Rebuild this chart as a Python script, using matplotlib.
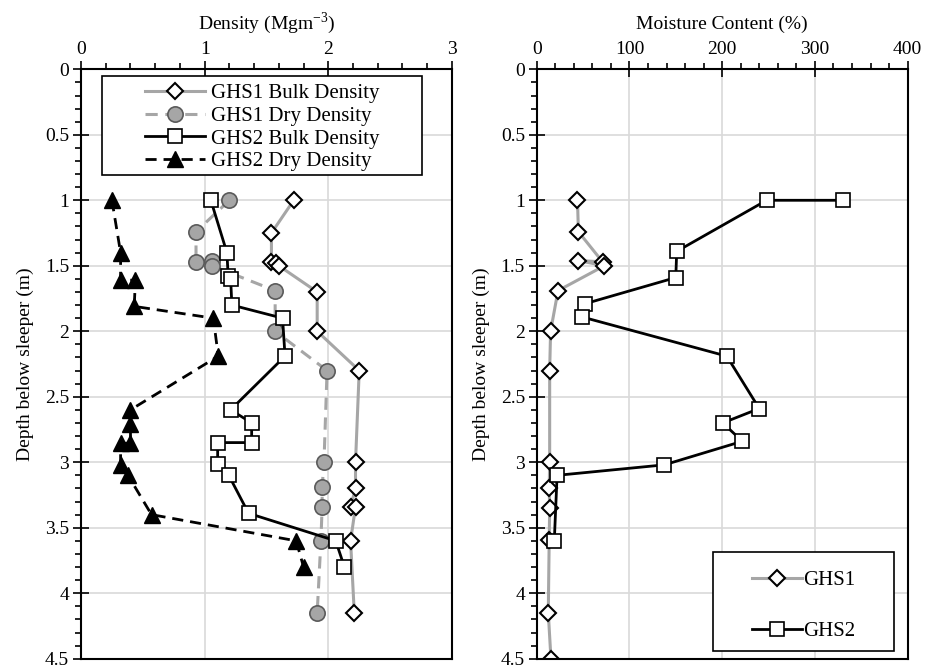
import matplotlib
matplotlib.use("Agg")
import matplotlib.pyplot as plt
from matplotlib.patches import Rectangle
from matplotlib.ticker import MultipleLocator, FuncFormatter

plt.rcParams['font.family'] = ['Liberation Serif', 'DejaVu Serif']
plt.rcParams['font.size'] = 14

# density profiles (Mg/m3) vs depth below sleeper (m)
ghs1_bulk = [1.72, 1.54, 1.54, 1.58, 1.60, 1.91, 1.91, 2.25, 2.22, 2.22, 2.18, 2.22, 2.18, 2.21]
ghs1_bulk_depth = [1.0, 1.25, 1.47, 1.48, 1.50, 1.70, 2.0, 2.3, 3.0, 3.2, 3.34, 3.34, 3.6, 4.15]

ghs1_dry = [1.2, 0.93, 0.93, 1.06, 1.06, 1.57, 1.57, 1.99, 1.965, 1.95, 1.95, 1.94, 1.91]
ghs1_dry_depth = [1.0, 1.24, 1.47, 1.46, 1.5, 1.69, 2.0, 2.3, 3.0, 3.19, 3.34, 3.6, 4.15]

ghs2_bulk = [1.05, 1.18, 1.19, 1.21, 1.22, 1.63, 1.65, 1.21, 1.38, 1.38, 1.105, 1.105, 1.195, 1.355, 2.06, 2.13]
ghs2_bulk_depth = [1.0, 1.4, 1.58, 1.6, 1.8, 1.9, 2.19, 2.6, 2.7, 2.85, 2.85, 3.01, 3.1, 3.39, 3.6, 3.8]

ghs2_dry = [0.25, 0.32, 0.32, 0.44, 0.43, 1.07, 1.11, 0.40, 0.40, 0.40, 0.32, 0.32, 0.38, 0.57, 1.74, 1.80]
ghs2_dry_depth = [1.0, 1.4, 1.61, 1.61, 1.81, 1.9, 2.19, 2.6, 2.71, 2.855, 2.855, 3.02, 3.1, 3.4, 3.6, 3.8]

# moisture content (%)
ghs1_mc = [44, 45, 71, 45, 73, 23, 15, 14, 14, 13.5, 14, 13.5, 12.5, 15.4]
ghs1_mc_depth = [1.0, 1.24, 1.47, 1.46, 1.5, 1.69, 2.0, 2.3, 3.0, 3.2, 3.35, 3.59, 4.15, 4.5]

ghs2_mc = [330, 248, 151, 150, 52, 48.5, 205, 240, 200.6, 221.8, 137.6, 22, 19]
ghs2_mc_depth = [1.0, 1.0, 1.39, 1.59, 1.79, 1.89, 2.19, 2.59, 2.7, 2.84, 3.02, 3.1, 3.6]

grey = '#a6a6a6'
fig = plt.figure(figsize=(9.25, 6.69), dpi=100)
ax1 = fig.add_axes([0.0876, 0.0154, 0.401, 0.881])
ax2 = fig.add_axes([0.5802, 0.0154, 0.401, 0.881])

fmt = FuncFormatter(lambda v, p: '{:g}'.format(round(v, 3)))


def style(ax, xmax, xmaj, xmin):
    ax.set_ylim(4.5, 0)
    ax.set_xlim(0, xmax)
    ax.xaxis.tick_top()
    ax.xaxis.set_label_position('top')
    ax.xaxis.set_major_locator(MultipleLocator(xmaj))
    ax.xaxis.set_minor_locator(MultipleLocator(xmin))
    ax.yaxis.set_major_locator(MultipleLocator(0.5))
    ax.yaxis.set_minor_locator(MultipleLocator(0.1))
    ax.xaxis.set_major_formatter(fmt)
    ax.yaxis.set_major_formatter(fmt)
    ax.tick_params(which='major', direction='inout', length=11, width=1.2, pad=3)
    ax.tick_params(which='minor', direction='out', length=4, width=1.2)
    ax.tick_params(axis='x', which='both', top=True, bottom=False)
    ax.grid(True, which='major', color='#d9d9d9', lw=1.2)
    ax.set_axisbelow(True)
    for s in ax.spines.values():
        s.set_linewidth(1.5)
    ax.set_ylabel('Depth below sleeper (m)', labelpad=8)


def legend_box(ax, x0, y0, x1, y1):
    ax.add_patch(Rectangle((x0, y0), x1 - x0, y1 - y0, transform=ax.transAxes,
                           facecolor='white', edgecolor='black', lw=1.2, zorder=4))


style(ax1, 3, 1, 0.2)
ax1.set_xlabel(r'Density (Mgm$^{\mathregular{-3}}$)', labelpad=8)
ax1.plot(ghs1_bulk, ghs1_bulk_depth, color=grey, lw=2.2, marker='D', ms=8,
         mfc='white', mec='black', mew=1.5, label='GHS1 Bulk Density')
ax1.plot(ghs1_dry, ghs1_dry_depth, color=grey, lw=2.2, ls=(0, (4, 2.5)), marker='o', ms=11,
         mfc=grey, mec='#5a5a5a', mew=1.2, label='GHS1 Dry Density')
ax1.plot(ghs2_bulk, ghs2_bulk_depth, color='black', lw=2, marker='s', ms=10,
         mfc='white', mec='black', mew=1.2, label='GHS2 Bulk Density')
ax1.plot(ghs2_dry, ghs2_dry_depth, color='black', lw=2, ls=(0, (4, 2.5)), marker='^', ms=11,
         mfc='black', mec='black', label='GHS2 Dry Density')
legend_box(ax1, 0.0566, 0.8207, 0.919, 0.9886)
leg1 = ax1.legend(loc='upper left', bbox_to_anchor=(0.1725, 0.9755), frameon=False,
                  handlelength=2.9, labelspacing=0.15, borderpad=0, borderaxespad=0,
                  handletextpad=0.25, fontsize=15)
leg1.set_zorder(5)

style(ax2, 400, 100, 20)
ax2.set_xlabel('Moisture Content (%)', labelpad=8)
ax2.plot(ghs1_mc, ghs1_mc_depth, color=grey, lw=2.2, marker='D', ms=8,
         mfc='white', mec='black', mew=1.5, label='GHS1')
ax2.plot(ghs2_mc, ghs2_mc_depth, color='black', lw=2, marker='s', ms=10,
         mfc='white', mec='black', mew=1.2, label='GHS2')
legend_box(ax2, 0.4752, 0.013, 0.963, 0.181)
leg2 = ax2.legend(loc='upper left', bbox_to_anchor=(0.580, 0.1496), frameon=False,
                  handlelength=2.4, labelspacing=1.5, borderpad=0, borderaxespad=0,
                  handletextpad=0.05, fontsize=15)
leg2.set_zorder(5)

fig.savefig('out.png', dpi=100)
